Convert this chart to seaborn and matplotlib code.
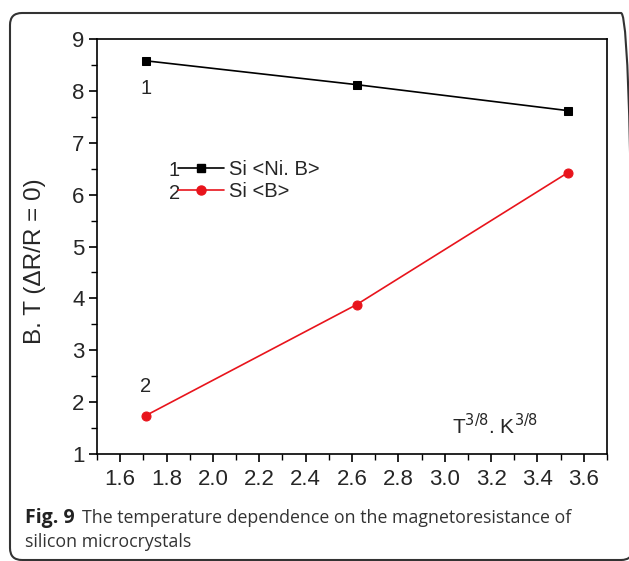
import matplotlib
matplotlib.use('Agg')
import matplotlib.pyplot as plt
import seaborn as sns
import pandas as pd
from matplotlib.patches import FancyBboxPatch
from matplotlib.lines import Line2D
from matplotlib.ticker import MultipleLocator, FormatStrFormatter
from matplotlib.transforms import IdentityTransform

# data
temp = [1.71, 2.62, 3.53]
bt_ni_b = [8.58, 8.12, 7.62]
bt_b = [1.74, 3.88, 6.42]
series_names = ['Si <Ni. B>', 'Si <B>']

sns.set_style('ticks')
plt.rcParams['font.family'] = ['Liberation Sans', 'DejaVu Sans']

fig = plt.figure(figsize=(6.29, 5.61), dpi=100)
ax = fig.add_axes([0.1542, 0.1907, 0.8108, 0.7398])

df1 = pd.DataFrame({'x': temp, 'y': bt_ni_b})
df2 = pd.DataFrame({'x': temp, 'y': bt_b})
sns.lineplot(data=df1, x='x', y='y', ax=ax, color='black', marker='s',
             markersize=6, markeredgecolor='black', linewidth=1.2)
sns.lineplot(data=df2, x='x', y='y', ax=ax, color='#e8141c', marker='o',
             markersize=6.5, markeredgecolor='#e8141c', linewidth=1.2)

ax.set_xlim(1.5, 3.7)
ax.set_ylim(1, 9)
ax.xaxis.set_major_locator(MultipleLocator(0.2))
ax.xaxis.set_minor_locator(MultipleLocator(0.1))
ax.yaxis.set_major_locator(MultipleLocator(1))
ax.yaxis.set_minor_locator(MultipleLocator(0.5))
ax.xaxis.set_major_formatter(FormatStrFormatter('%.1f'))
ax.tick_params(which='major', length=6, width=1.2, labelsize=16, color='black')
ax.tick_params(axis='x', which='major', pad=5)
ax.tick_params(axis='y', which='major', pad=3)
ax.tick_params(which='minor', length=4, width=1.0, color='black')
for s in ax.spines.values():
    s.set_linewidth(1.2)
    s.set_color('black')

ax.set_xlabel('')
ax.set_ylabel('B. T (\u0394R/R = 0)', fontsize=17.5)
ax.yaxis.set_label_coords(-0.10, 0.464)

# inline legend
handles = [Line2D([], [], color='black', marker='s', markersize=6, lw=1.2),
           Line2D([], [], color='#e8141c', marker='o', markersize=6.5, lw=1.2)]
leg = ax.legend(handles, series_names, loc='upper left', bbox_to_anchor=(0.159, 0.708),
                frameon=False, fontsize=14.5, handlelength=2.3, handletextpad=0.25,
                labelspacing=0.15, borderaxespad=0, borderpad=0)
ax.text(0.163, 0.682, '1', transform=ax.transAxes, fontsize=14.5, ha='right', va='center')
ax.text(0.163, 0.627, '2', transform=ax.transAxes, fontsize=14.5, ha='right', va='center')

ax.text(1.71, 8.04, '1', fontsize=14.5, ha='center', va='center')
ax.text(1.71, 2.3, '2', fontsize=14.5, ha='center', va='center')
ax.text(3.217, 1.55, 'T$^{3/8}$. K$^{3/8}$', fontsize=15, ha='center', va='center')

# caption
cap_font = ['Open Sans', 'DejaVu Sans']
fig.text(0.040, 1 - 518 / 561, 'Fig. 9', fontsize=14, fontweight='bold',
         family=cap_font, va='center', color='#222222')
fig.text(0.130, 1 - 518 / 561, 'The temperature dependence on the magnetoresistance of',
         fontsize=12.8, family=cap_font, va='center', color='#333333')
fig.text(0.040, 1 - 542 / 561, 'silicon microcrystals', fontsize=12.8,
         family=cap_font, va='center', color='#333333')

frame = FancyBboxPatch((10, 1), 623, 547, transform=IdentityTransform(),
                       boxstyle='round,pad=0,rounding_size=12', fill=False,
                       edgecolor='#333333', linewidth=1.5, clip_on=False)
fig.patches.append(frame)

fig.savefig('out.png', dpi=100)
